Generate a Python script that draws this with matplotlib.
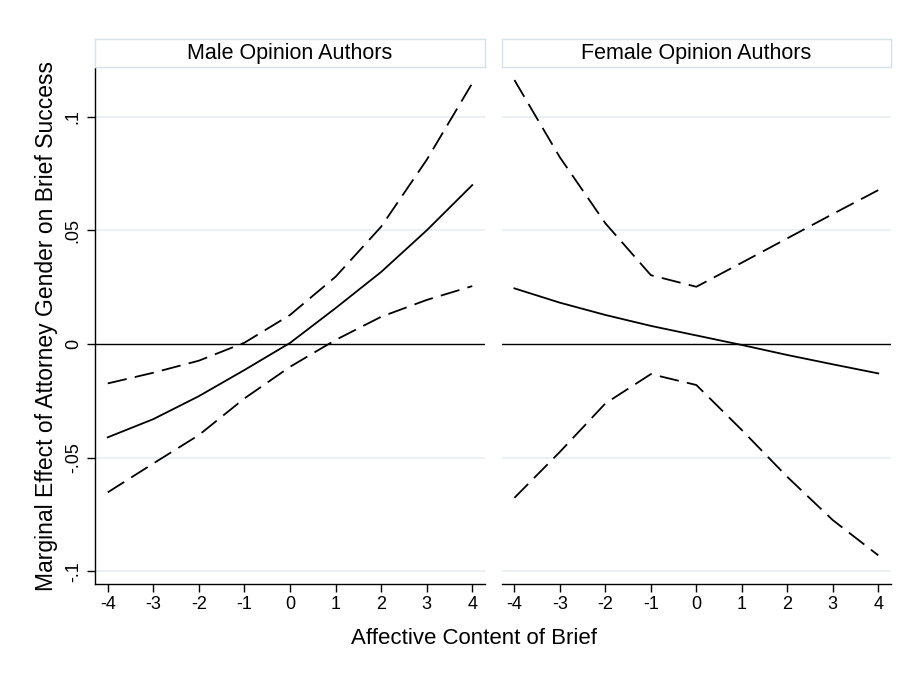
import matplotlib
matplotlib.use("Agg")
import matplotlib.pyplot as plt

plt.rcParams['font.family'] = ['Liberation Sans', 'DejaVu Sans']
plt.rcParams['lines.scale_dashes'] = False

x_vals = [-4, -3, -2, -1, 0, 1, 2, 3, 4]
panel_titles = ["Male Opinion Authors", "Female Opinion Authors"]

male_est = [-0.0410, -0.0330, -0.0229, -0.0114, 0.0005, 0.0158, 0.0317, 0.0500, 0.0699]
male_upper = [-0.0173, -0.0126, -0.0073, 0.0006, 0.0128, 0.0296, 0.0516, 0.0810, 0.1147]
male_lower = [-0.0652, -0.0525, -0.0400, -0.0239, -0.0100, 0.0018, 0.0120, 0.0194, 0.0255]

female_est = [0.0245, 0.0182, 0.0128, 0.0080, 0.0038, -0.0004, -0.0048, -0.0089, -0.0129]
female_upper = [0.1161, 0.0821, 0.0531, 0.0303, 0.0252, 0.0358, 0.0465, 0.0572, 0.0677]
female_lower = [-0.0676, -0.0474, -0.0261, -0.0132, -0.0180, -0.0378, -0.0584, -0.0774, -0.0929]

y_ticks = [-0.1, -0.05, 0, 0.05, 0.1]
y_ticklabels = ["-.1", "-.05", "0", ".05", ".1"]
x_ticklabels = ["-4", "-3", "-2", "-1", "0", "1", "2", "3", "4"]

W, H = 910, 673
fig = plt.figure(figsize=(W / 100, H / 100), dpi=100)
fig.patch.set_facecolor("white")

grid_color = "#e6eef1"
strip_edge = "#d5e2ea"

def fx(px):
    return px / W

def fy(py):
    return 1 - py / H

panels = [
    (95, 485, male_est, male_upper, male_lower),
    (501.7, 891, female_est, female_upper, female_lower),
]

ax_top, ax_bot = 68, 584
for i, (x0, x1, est, up, lo) in enumerate(panels):
    ax = fig.add_axes([fx(x0), fy(ax_bot), fx(x1 - x0), (ax_bot - ax_top) / H])
    ax.set_xlim(-4.28, 4.28)
    ax.set_ylim(-0.1055, 0.1214)
    for t in y_ticks:
        if t != 0:
            ax.axhline(t, color=grid_color, lw=1.2, zorder=0)
    ax.axhline(0, color="black", lw=1.0, zorder=1)
    ax.plot(x_vals, est, color="black", lw=1.3, zorder=3)
    ax.plot(x_vals, up, color="black", lw=1.3, dashes=(14, 6), zorder=3)
    ax.plot(x_vals, lo, color="black", lw=1.3, dashes=(14, 6), zorder=3)

    for s in ["top", "right"]:
        ax.spines[s].set_visible(False)
    ax.spines["bottom"].set_linewidth(1.0)
    ax.set_xticks(x_vals)
    ax.set_xticklabels(x_ticklabels, fontsize=13)
    ax.tick_params(axis="x", direction="out", length=5.5, width=1.0, pad=3)
    if i == 0:
        ax.spines["left"].set_linewidth(1.0)
        ax.set_yticks(y_ticks)
        ax.set_yticklabels(y_ticklabels, fontsize=13, rotation=90, va="center")
        ax.tick_params(axis="y", direction="out", length=5.5, width=1.0, pad=4)
        ax.set_ylabel("Marginal Effect of Attorney Gender on Brief Success", fontsize=16.5, labelpad=5)
    else:
        ax.spines["left"].set_visible(False)
        ax.set_yticks([])

    # strip title box
    sax = fig.add_axes([fx(x0), fy(66.7), fx(x1 - x0), 27.4 / H])
    sax.set_xticks([])
    sax.set_yticks([])
    for s in sax.spines.values():
        s.set_color(strip_edge)
        s.set_linewidth(1.0)
    sax.text(0.5, 0.5, panel_titles[i], ha="center", va="center", fontsize=15.5,
             transform=sax.transAxes)

fig.text(fx(474), fy(638), "Affective Content of Brief", ha="center", va="center",
         fontsize=16)

fig.savefig("out.png", dpi=100, facecolor="white")
